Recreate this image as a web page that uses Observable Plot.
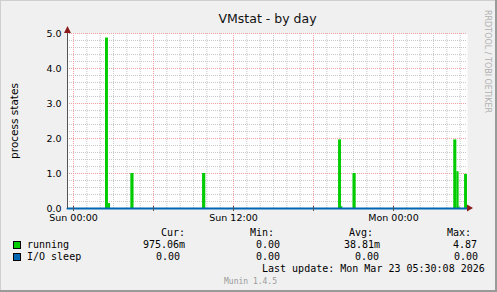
<!DOCTYPE html>
<html><head><meta charset="utf-8">
<script src="https://cdn.jsdelivr.net/npm/d3@7"></script>
<script src="https://cdn.jsdelivr.net/npm/@observablehq/plot@0.6"></script>
<style>body{margin:0;background:#f0f0f0} svg{display:block}</style>
</head><body><div id="chart"></div>
<script>
// ---- data ----
const title = "VMstat - by day";
const yLabel = "process states";
const yTicks = [0, 1, 2, 3, 4, 5];
const xLabelHours = [0, 12, 24];           // hours since Sun 00:00
const seriesNames = ["running", "I/O sleep"];
const seriesColors = ["#00cc00", "#0066b3"];
// running spikes (hours since Sun 00:00)
const spikeStart = [2.40, 2.62, 4.30, 9.68, 19.88, 20.10, 20.96, 28.52, 28.75, 28.92, 29.33];
const spikeEnd   = [2.62, 2.78, 4.54, 9.92, 20.10, 20.20, 21.20, 28.75, 28.92, 29.00, 29.55];
const spikeValue = [4.87, 0.14, 1.00, 1.00, 1.96, 0.05, 1.00, 1.96, 1.05, 0.05, 0.975];
// I/O sleep (constant 0)
const ioHours  = [-0.45, 29.55];
const ioValues = [0, 0];
const legendHeaders = ["Cur:", "Min:", "Avg:", "Max:"];
const legendCur = ["975.06m", "0.00"];
const legendMin = ["0.00", "0.00"];
const legendAvg = ["38.81m", "0.00"];
const legendMax = ["4.87", "0.00"];
const lastUpdate = "Last update: Mon Mar 23 05:30:08 2026";
const version = "Munin 1.4.5";
const watermark = "RRDTOOL / TOBI OETIKER";

// ---- build ----
const base = Date.UTC(2026, 2, 22);
const T = h => new Date(base + h * 3600e3);
const x0 = T(-0.45), x1 = T(29.55);
const spikes = spikeStart.map((s, i) => ({x1: T(s), x2: T(spikeEnd[i]), y: spikeValue[i]}));
const io = ioHours.map((h, i) => ({x: T(h), y: ioValues[i]}));
const hourGrid = d3.utcHour.range(x0, x1);
const majorGrid = d3.utcHour.every(6).range(x0, x1);
const minorY = d3.range(1, 25).map(i => i / 5).filter(v => Math.abs(v - Math.round(v)) > 1e-6);
const majorY = yTicks.filter(v => v > 0);
const fmt = d3.utcFormat("%a %H:%M");

const plot = Plot.plot({
  width: 497, height: 292,
  marginLeft: 67, marginRight: 30, marginTop: 33, marginBottom: 84,
  style: {background: "#f0f0f0", fontFamily: "DejaVu Sans", fontSize: "9.5px", color: "#000", overflow: "visible"},
  x: {type: "utc", domain: [x0, x1], axis: null},
  y: {domain: [0, 5], axis: null},
  marks: [
    Plot.frame({fill: "white", stroke: null}),
    Plot.ruleX(hourGrid, {x: d => d, stroke: "#c8c8c8", strokeDasharray: "1,1"}),
    Plot.ruleY(minorY, {y: d => d, stroke: "#c8c8c8", strokeDasharray: "1,1"}),
    Plot.ruleX(majorGrid, {x: d => d, stroke: "#f0a0a0", strokeDasharray: "1,1"}),
    Plot.ruleY(majorY, {y: d => d, stroke: "#f0a0a0", strokeDasharray: "1,1"}),
    Plot.rectY(spikes, {x1: "x1", x2: "x2", y: "y", fill: seriesColors[0]}),
    Plot.lineY(io, {x: "x", y: "y", stroke: seriesColors[1], strokeWidth: 2}),
    Plot.text(xLabelHours.map(T), {x: d => d, frameAnchor: "bottom", lineAnchor: "top", dy: 6, textAnchor: "middle", text: d => fmt(d), fill: "#000", fontSize: 9.5}),
    Plot.text(yTicks, {y: d => d, frameAnchor: "left", dx: -6, textAnchor: "end", text: d => d.toFixed(1), fill: "#000", fontSize: 9.5}),
    Plot.text([yLabel], {frameAnchor: "left", dx: -53, rotate: -90, textAnchor: "middle", text: d => d, fill: "#000", fontSize: 10.5}),
    Plot.text([title], {frameAnchor: "top", dy: -19, textAnchor: "middle", text: d => d, fill: "#111", fontSize: 12.5})
  ]
});
document.getElementById("chart").appendChild(plot);

const svg = d3.select(plot);
const xs = plot.scale("x"), ys = plot.scale("y");
const X0 = xs.apply(x0), X1 = xs.apply(x1), Y0 = ys.apply(0), Y5 = ys.apply(5);

// axes lines & ticks
const g = svg.append("g");
majorGrid.forEach(d => {
  const px = Math.round(xs.apply(d)) + 0.5;
  g.append("line").attr("x1", px).attr("x2", px).attr("y1", Y0 - 2).attr("y2", Y0 + 3).attr("stroke", "#555");
});
g.append("line").attr("x1", X0 + 0.5).attr("x2", X0 + 0.5).attr("y1", Y0).attr("y2", Y5 - 4).attr("stroke", "#555");
g.append("path").attr("d", `M${X0 - 3},${Y5 + 0} L${X0 + 4},${Y5 + 0} L${X0 + 0.5},${Y5 - 7} Z`).attr("fill", "#8b1a1a");
g.append("path").attr("d", `M${X1},${Y0 - 3.5} L${X1},${Y0 + 3.5} L${X1 + 6},${Y0} Z`).attr("fill", "#8b1a1a");

// watermark
svg.append("text").attr("transform", "translate(485,10) rotate(90)").attr("text-anchor", "start")
  .attr("font-family", "DejaVu Sans").attr("font-size", 8).attr("fill", "#b0b0b0").text(watermark);

// legend
const L = svg.append("g").attr("font-family", "DejaVu Sans Mono").attr("font-size", 10).attr("fill", "#000").attr("text-anchor", "start");
const hx = [161, 250, 349, 447];
legendHeaders.forEach((h, i) => L.append("text").attr("x", hx[i]).attr("y", 236).text(h));
const rows = [248, 260];
const colX = [[143, 256, 344, 453], [156, 256, 355, 454]];
seriesNames.forEach((n, i) => {
  L.append("rect").attr("x", 13.5).attr("y", rows[i] - 6.5).attr("width", 7).attr("height", 7)
    .attr("fill", seriesColors[i]).attr("stroke", "#000");
  L.append("text").attr("x", 27).attr("y", rows[i]).text(n);
  [legendCur[i], legendMin[i], legendAvg[i], legendMax[i]].forEach((v, j) =>
    L.append("text").attr("x", colX[i][j]).attr("y", rows[i]).text(v));
});
L.append("text").attr("x", 262).attr("y", 272).text(lastUpdate);
L.append("text").attr("x", 224).attr("y", 284).attr("font-size", 8).attr("fill", "#999").text(version);

// border
svg.append("line").attr("x1", 0).attr("x2", 497).attr("y1", 0.5).attr("y2", 0.5).attr("stroke", "#cfcfcf");
svg.append("line").attr("x1", 0.5).attr("x2", 0.5).attr("y1", 0).attr("y2", 292).attr("stroke", "#cfcfcf");
svg.append("line").attr("x1", 0).attr("x2", 497).attr("y1", 291).attr("y2", 291).attr("stroke", "#9a9a9a").attr("stroke-width", 2);
svg.append("line").attr("x1", 496).attr("x2", 496).attr("y1", 0).attr("y2", 292).attr("stroke", "#9a9a9a").attr("stroke-width", 2);
</script></body></html>
